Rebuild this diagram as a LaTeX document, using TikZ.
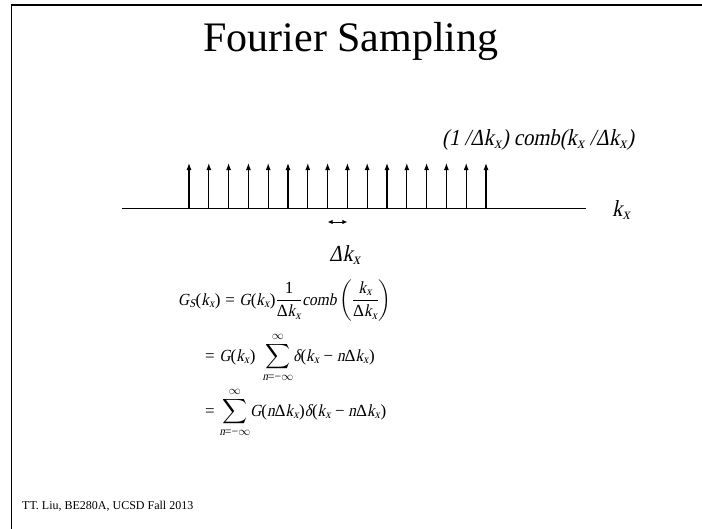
\documentclass[tikz,border=0pt]{standalone}
\usepackage{amsmath}
\usepackage{fontspec}
\setmainfont{Liberation Serif}[ItalicFont={Liberation Serif}, ItalicFeatures={FakeSlant=0.21, FakeStretch=0.9}]
\usetikzlibrary{arrows.meta}
\newcommand\vi[1]{\textit{#1}}
\newcommand\vu[1]{\textup{#1}}
\newcommand\kx{\vi{k}_{\vi{x}}}
\newcommand\dkx{\vu{Δ}\vi{k}_{\vi{x}}}
\newcommand\eqs{\mathrel{\vu{=}}}
\newcommand\mns{\mathbin{\vu{−}}}
\newcommand\lp{\mathopen{\vu{(}}}
\newcommand\rp{\mathclose{\vu{)}}}
\tikzset{
  framestyle/.style={line width=1.6pt, line cap=rect},
  axisline/.style={line width=1pt},
  spike/.style={line width=1.1pt, -{Latex[length=7pt,width=5pt]}},
  gapmark/.style={line width=1pt, {Latex[length=5pt,width=4.5pt]}-{Latex[length=5pt,width=4.5pt]}},
  titletext/.style={inner sep=0pt, font=\fontsize{42}{48}\selectfont},
  labeltext/.style={inner sep=0pt, font=\fontsize{23}{27}\selectfont\itshape},
  eqtext/.style={inner sep=0pt, font=\fontsize{17}{21}\selectfont},
  foottext/.style={inner sep=0pt, font=\fontsize{12}{14}\selectfont}
}
\begin{document}
\begin{tikzpicture}[x=1pt,y=-1pt]
\useasboundingbox (0,0) rectangle (702,528);
% frame
\coordinate (fbl) at (11.5,528);
\coordinate (ftl) at (11.5,5);
\coordinate (ftr) at (702,5);
\draw[framestyle] (fbl) -- (ftl) -- (ftr);
% title
\node[titletext] (title) at (351,41) {Fourier Sampling};
% axis
\coordinate (ax0) at (122,208);
\coordinate (ax1) at (586,208);
\draw[axisline] (ax0) -- (ax1);
% spikes
\foreach \i in {0,...,15} {
  \coordinate (b\i) at ({189+19.8*\i},208);
  \coordinate (t\i) at ({189+19.8*\i},163);
  \draw[spike] (b\i) -- (t\i);
}
% spacing mark
\coordinate (d0) at (327.6,222);
\coordinate (d1) at (347.4,222);
\draw[gapmark] (d0) -- (d1);
% labels
\node[labeltext, anchor=base west] (comblbl) at (442,145) {(1 /Δk\textsubscript{x}) comb(k\textsubscript{x} /Δk\textsubscript{x})};
\node[labeltext, anchor=base west] (kxlbl) at (612,216) {k\textsubscript{x}};
\node[labeltext, anchor=base west] (dklbl) at (329,261) {Δk\textsubscript{x}};
% equations
\node[eqtext, anchor=base west] (eq1) at (178,305) {$\displaystyle \vi{G}_{\vi{S}}\lp\kx\rp \eqs \vi{G}\lp\kx\rp\frac{\vu{1}}{\dkx}\vi{comb}\left(\frac{\kx}{\dkx}\right)$};
\node[eqtext, anchor=base west] (eq2) at (205,361) {$\displaystyle \eqs \vi{G}\lp\kx\rp\ \sum_{\vi{n}\eqs\mns\infty}^{\infty}\!\vi{δ}\lp\kx\mns\vi{n}\dkx\rp$};
\node[eqtext, anchor=base west] (eq3) at (205,416) {$\displaystyle \eqs \sum_{\vi{n}\eqs\mns\infty}^{\infty}\!\vi{G}\lp\vi{n}\dkx\rp\vi{δ}\lp\kx\mns\vi{n}\dkx\rp$};
% footer
\node[foottext, anchor=base west] (foot) at (22,509) {TT. Liu, BE280A, UCSD Fall 2013};
\end{tikzpicture}
\end{document}
